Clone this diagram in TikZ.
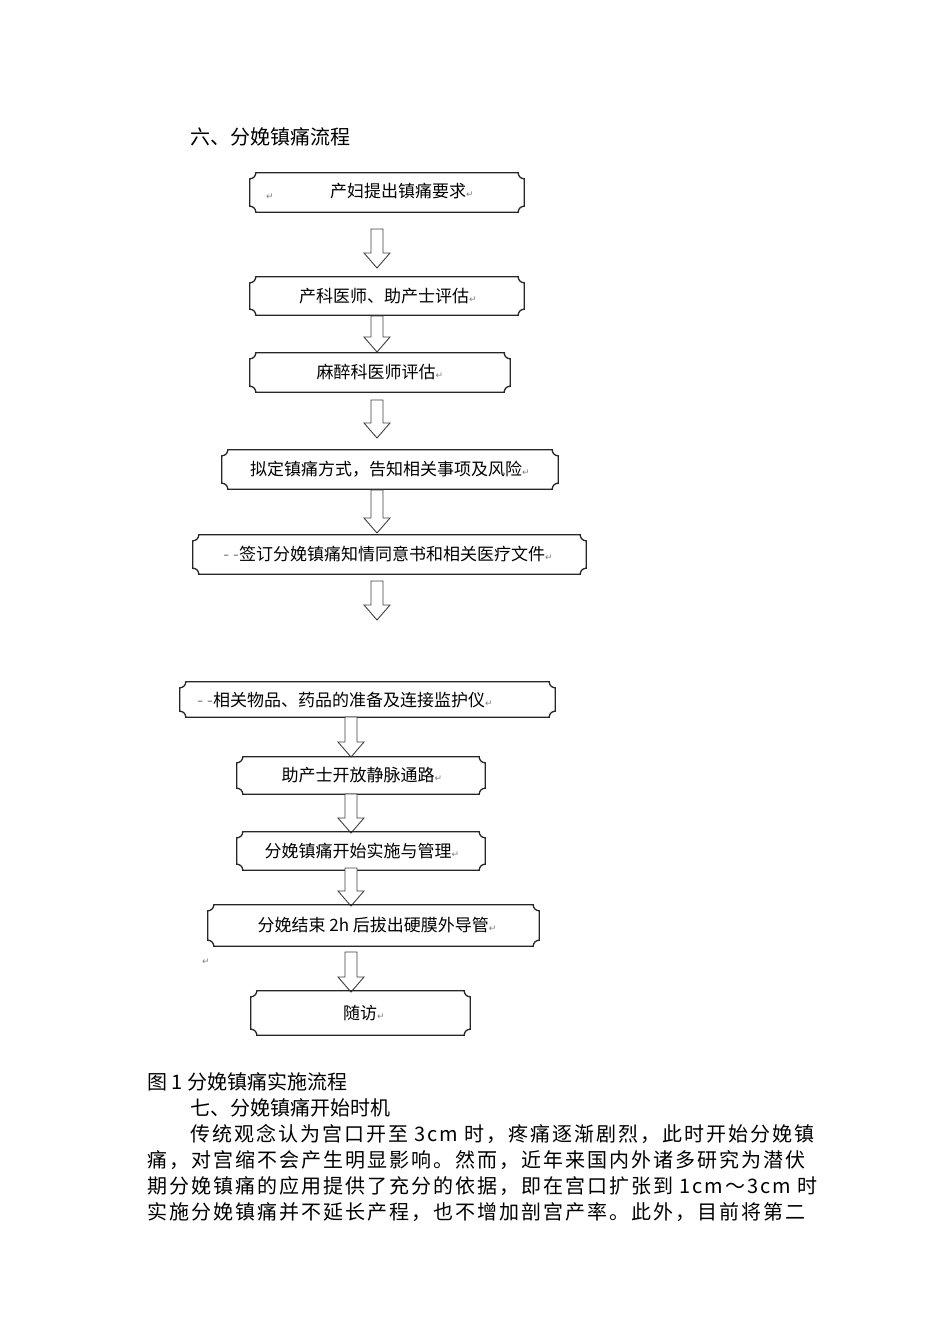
\documentclass[tikz,border=0pt]{standalone}
\usepackage{fontspec}
\setmainfont{Noto Sans CJK SC}
\newfontfamily\spaced[LetterSpace=10]{Noto Sans CJK SC}
\newfontfamily\symf{DejaVu Sans}
\newcommand{\rt}{{\symf\fontsize{9}{9}\selectfont\color{gray}↵}}
\newcommand{\plaque}[5]{% name, x1, y1(top px), x2, y2(bottom px)
  \coordinate (#1-nw) at (#2,-#3); \coordinate (#1-se) at (#4,-#5);
  \node[box,fit={(#1-nw)(#1-se)}] (#1) {};
  \draw[boxline] ([xshift=6pt]#1.north west) -- ([xshift=-6pt]#1.north east)
    arc[start angle=180,end angle=270,radius=6pt] -- ([yshift=6pt]#1.south east)
    arc[start angle=90,end angle=180,radius=6pt] -- ([xshift=6pt]#1.south west)
    arc[start angle=0,end angle=90,radius=6pt] -- ([yshift=-6pt]#1.north west)
    arc[start angle=270,end angle=360,radius=6pt] -- cycle;}
\newcommand{\harrow}[3]{% x center, ytop, ybottom (px)
  \draw[arrline] (#1-6,-#2) -- (#1+6,-#2) -- (#1+6,-#3+15) -- (#1+13,-#3+15) -- (#1,-#3) -- (#1-13,-#3+15) -- (#1-6,-#3+15) -- cycle;}
\usetikzlibrary{fit}
\begin{document}
\begin{tikzpicture}[x=1pt,y=1pt,
  box/.style={inner sep=0pt,draw=none},
  boxline/.style={draw=black!85,line width=1.3pt},
  arrline/.style={draw=black!75,line width=0.9pt,fill=white},
  bt/.style={font=\fontsize{17}{17}\selectfont,inner sep=0pt},
  body/.style={font=\fontsize{20}{20}\selectfont,anchor=west,inner sep=0pt},
  para/.style={font=\spaced\fontsize{20}{20}\selectfont,anchor=west,inner sep=0pt}]
\fill[white] (0,-1344) rectangle (950,0);
\useasboundingbox (0,-1344) rectangle (950,0);
\node[body] (h6) at (190,-137) {六、分娩镇痛流程};
\plaque{b1}{250}{173}{524}{212}
\node[bt] (t1) at (402,-191) {产妇提出镇痛要求\rt};
\node[bt] at (270,-197) {\rt};
\harrow{377}{229}{268}
\plaque{b2}{250}{277}{524}{315}
\node[bt] (t2) at (388,-296) {产科医师、助产士评估\rt};
\harrow{377}{316}{352}
\plaque{b3}{250}{353}{510}{392}
\node[bt] (t3) at (380,-372) {麻醉科医师评估\rt};
\harrow{377}{400}{438}
\plaque{b4}{222}{450}{558}{489}
\node[bt] (t4) at (390,-469) {拟定镇痛方式，告知相关事项及风险\rt};
\harrow{377}{490}{533}
\plaque{b5}{193}{535}{586}{574}
\node[bt] (t5) at (388,-554) {{\color{gray}- -}签订分娩镇痛知情同意书和相关医疗文件\rt};
\harrow{377}{581}{620}
\plaque{b6}{180}{682}{555}{717}
\node[bt] (t6) at (345,-700) {{\color{gray}- -}相关物品、药品的准备及连接监护仪\rt};
\harrow{351}{717}{757}
\plaque{b7}{237}{757}{485}{794}
\node[bt] (t7) at (362,-775) {助产士开放静脉通路\rt};
\harrow{351}{794}{833}
\plaque{b8}{237}{832}{485}{870}
\node[bt] (t8) at (362,-851) {分娩镇痛开始实施与管理\rt};
\harrow{351}{868}{906}
\plaque{b9}{208}{905}{539}{946}
\node[bt] (t9) at (377,-925) {分娩结束 2h 后拔出硬膜外导管\rt};
\node[bt] at (206,-962) {\rt};
\harrow{351}{952}{992}
\plaque{b10}{251}{991}{470}{1035}
\node[bt] (t10) at (364,-1013) {随访\rt};
\node[body] (cap) at (147,-1082) {图 1 分娩镇痛实施流程};
\node[body] (h7) at (190,-1108) {七、分娩镇痛开始时机};
\node[para] (p1) at (190,-1134) {传统观念认为宫口开至 3cm 时，疼痛逐渐剧烈，此时开始分娩镇};
\node[para] (p2) at (147,-1160) {痛，对宫缩不会产生明显影响。然而，近年来国内外诸多研究为潜伏};
\node[para] (p3) at (147,-1186) {期分娩镇痛的应用提供了充分的依据，即在宫口扩张到 1cm～3cm 时};
\node[para] (p4) at (147,-1212) {实施分娩镇痛并不延长产程，也不增加剖宫产率。此外，目前将第二};
\end{tikzpicture}
\end{document}
